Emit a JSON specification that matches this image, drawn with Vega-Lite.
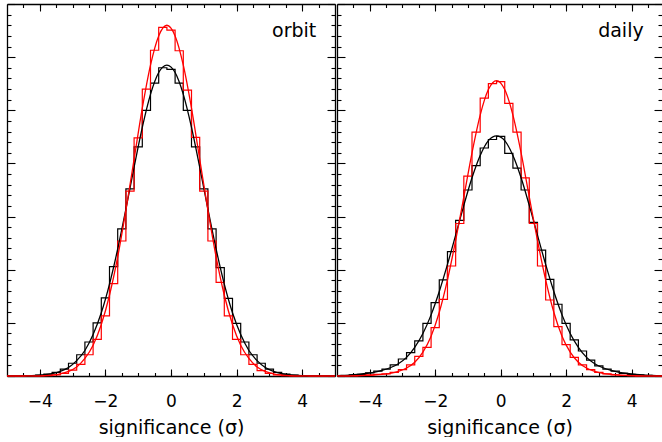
{
  "$schema": "https://vega.github.io/schema/vega-lite/v6.json",
  "padding": {"left": 4, "top": 3, "right": 0, "bottom": 0},
  "spacing": 2,
  "bounds": "flush",
  "config": {
    "view": {"stroke": null},
    "axis": {"domainColor": "black", "tickColor": "black", "labelColor": "black", "titleColor": "black", "labelFont": "DejaVu Sans", "titleFont": "DejaVu Sans", "grid": false, "tickWidth": 1.1, "domainWidth": 1.3, "labelFontSize": 17, "titleFontSize": 19, "titleFontWeight": "normal"}
  },
  "datasets": {
    "orbitHist": [
      {"x": -5, "black": 0, "red": 0}, {"x": -4.75, "black": 0, "red": 0}, {"x": -4.5, "black": 0.002, "red": 0},
      {"x": -4.25, "black": 0.006, "red": 0.001}, {"x": -4.0, "black": 0.015, "red": 0.003}, {"x": -3.75, "black": 0.035, "red": 0.008},
      {"x": -3.5, "black": 0.07, "red": 0.02}, {"x": -3.25, "black": 0.13, "red": 0.05}, {"x": -3.0, "black": 0.24, "red": 0.11},
      {"x": -2.75, "black": 0.40, "red": 0.22}, {"x": -2.5, "black": 0.64, "red": 0.40}, {"x": -2.25, "black": 1.00, "red": 0.69},
      {"x": -2.0, "black": 1.47, "red": 1.13}, {"x": -1.75, "black": 2.06, "red": 1.74}, {"x": -1.5, "black": 2.77, "red": 2.54},
      {"x": -1.25, "black": 3.52, "red": 3.48}, {"x": -1.0, "black": 4.31, "red": 4.48}, {"x": -0.75, "black": 5.00, "red": 5.40},
      {"x": -0.5, "black": 5.51, "red": 6.13}, {"x": -0.25, "black": 5.80, "red": 6.56}, {"x": 0, "black": 5.77, "red": 6.51},
      {"x": 0.25, "black": 5.51, "red": 6.12}, {"x": 0.5, "black": 5.00, "red": 5.38}, {"x": 0.75, "black": 4.31, "red": 4.49},
      {"x": 1.0, "black": 3.52, "red": 3.48}, {"x": 1.25, "black": 2.77, "red": 2.54}, {"x": 1.5, "black": 2.04, "red": 1.76},
      {"x": 1.75, "black": 1.46, "red": 1.13}, {"x": 2.0, "black": 0.99, "red": 0.69}, {"x": 2.25, "black": 0.64, "red": 0.40},
      {"x": 2.5, "black": 0.40, "red": 0.22}, {"x": 2.75, "black": 0.24, "red": 0.10}, {"x": 3.0, "black": 0.13, "red": 0.05},
      {"x": 3.25, "black": 0.07, "red": 0.02}, {"x": 3.5, "black": 0.035, "red": 0.008}, {"x": 3.75, "black": 0.015, "red": 0.003},
      {"x": 4.0, "black": 0.006, "red": 0.001}, {"x": 4.25, "black": 0.002, "red": 0}, {"x": 4.5, "black": 0, "red": 0},
      {"x": 4.75, "black": 0, "red": 0}, {"x": 5, "black": 0, "red": 0}
    ],
    "orbitCurve": [
      {"x": -5, "black": 0, "red": 0}, {"x": -4.875, "black": 0.001, "red": 0}, {"x": -4.625, "black": 0.002, "red": 0},
      {"x": -4.375, "black": 0.004, "red": 0.001}, {"x": -4.125, "black": 0.010, "red": 0.003}, {"x": -3.875, "black": 0.022, "red": 0.008},
      {"x": -3.625, "black": 0.044, "red": 0.018}, {"x": -3.375, "black": 0.087, "red": 0.041}, {"x": -3.125, "black": 0.16, "red": 0.087},
      {"x": -2.875, "black": 0.29, "red": 0.17}, {"x": -2.625, "black": 0.48, "red": 0.33}, {"x": -2.375, "black": 0.78, "red": 0.58},
      {"x": -2.125, "black": 1.19, "red": 0.97}, {"x": -1.875, "black": 1.73, "red": 1.52}, {"x": -1.625, "black": 2.39, "red": 2.24},
      {"x": -1.375, "black": 3.14, "red": 3.12}, {"x": -1.125, "black": 3.93, "red": 4.08}, {"x": -0.875, "black": 4.68, "red": 5.04},
      {"x": -0.625, "black": 5.30, "red": 5.85}, {"x": -0.375, "black": 5.71, "red": 6.40}, {"x": -0.125, "black": 5.85, "red": 6.60},
      {"x": 0.125, "black": 5.71, "red": 6.40}, {"x": 0.375, "black": 5.30, "red": 5.85}, {"x": 0.625, "black": 4.68, "red": 5.04},
      {"x": 0.875, "black": 3.93, "red": 4.08}, {"x": 1.125, "black": 3.14, "red": 3.12}, {"x": 1.375, "black": 2.39, "red": 2.24},
      {"x": 1.625, "black": 1.73, "red": 1.52}, {"x": 1.875, "black": 1.19, "red": 0.97}, {"x": 2.125, "black": 0.78, "red": 0.58},
      {"x": 2.375, "black": 0.48, "red": 0.33}, {"x": 2.625, "black": 0.29, "red": 0.17}, {"x": 2.875, "black": 0.16, "red": 0.087},
      {"x": 3.125, "black": 0.087, "red": 0.041}, {"x": 3.375, "black": 0.044, "red": 0.018}, {"x": 3.625, "black": 0.022, "red": 0.008},
      {"x": 3.875, "black": 0.010, "red": 0.003}, {"x": 4.125, "black": 0.004, "red": 0.001}, {"x": 4.375, "black": 0.002, "red": 0},
      {"x": 4.625, "black": 0.001, "red": 0}, {"x": 4.875, "black": 0, "red": 0}, {"x": 5, "black": 0, "red": 0}
    ],
    "dailyHist": [
      {"x": -5, "black": 0, "red": 0}, {"x": -4.75, "black": 0.005, "red": 0}, {"x": -4.5, "black": 0.02, "red": 0.005},
      {"x": -4.25, "black": 0.03, "red": 0.01}, {"x": -4.0, "black": 0.06, "red": 0.02}, {"x": -3.75, "black": 0.09, "red": 0.03},
      {"x": -3.5, "black": 0.13, "red": 0.04}, {"x": -3.25, "black": 0.21, "red": 0.07}, {"x": -3.0, "black": 0.32, "red": 0.12},
      {"x": -2.75, "black": 0.44, "red": 0.21}, {"x": -2.5, "black": 0.66, "red": 0.37}, {"x": -2.25, "black": 0.99, "red": 0.54},
      {"x": -2.0, "black": 1.38, "red": 0.91}, {"x": -1.75, "black": 1.81, "red": 1.44}, {"x": -1.5, "black": 2.34, "red": 2.07},
      {"x": -1.25, "black": 2.93, "red": 2.87}, {"x": -1.0, "black": 3.50, "red": 3.76}, {"x": -0.75, "black": 3.96, "red": 4.59},
      {"x": -0.5, "black": 4.29, "red": 5.23}, {"x": -0.25, "black": 4.45, "red": 5.50}, {"x": 0, "black": 4.51, "red": 5.54},
      {"x": 0.25, "black": 4.19, "red": 5.13}, {"x": 0.5, "black": 3.91, "red": 4.59}, {"x": 0.75, "black": 3.50, "red": 3.73},
      {"x": 1.0, "black": 2.89, "red": 2.87}, {"x": 1.25, "black": 2.37, "red": 2.07}, {"x": 1.5, "black": 1.82, "red": 1.43},
      {"x": 1.75, "black": 1.35, "red": 0.93}, {"x": 2.0, "black": 0.99, "red": 0.59}, {"x": 2.25, "black": 0.68, "red": 0.35},
      {"x": 2.5, "black": 0.47, "red": 0.21}, {"x": 2.75, "black": 0.30, "red": 0.12}, {"x": 3.0, "black": 0.19, "red": 0.07},
      {"x": 3.25, "black": 0.13, "red": 0.04}, {"x": 3.5, "black": 0.09, "red": 0.02}, {"x": 3.75, "black": 0.05, "red": 0.01},
      {"x": 4.0, "black": 0.03, "red": 0.005}, {"x": 4.25, "black": 0.02, "red": 0}, {"x": 4.5, "black": 0.01, "red": 0},
      {"x": 4.75, "black": 0, "red": 0}, {"x": 5, "black": 0, "red": 0}
    ],
    "dailyCurve": [
      {"x": -5, "black": 0.008, "red": 0.001}, {"x": -4.875, "black": 0.01, "red": 0.001}, {"x": -4.625, "black": 0.018, "red": 0.002},
      {"x": -4.375, "black": 0.03, "red": 0.005}, {"x": -4.125, "black": 0.047, "red": 0.01}, {"x": -3.875, "black": 0.07, "red": 0.018},
      {"x": -3.625, "black": 0.105, "red": 0.03}, {"x": -3.375, "black": 0.155, "red": 0.05}, {"x": -3.125, "black": 0.23, "red": 0.085},
      {"x": -2.875, "black": 0.35, "red": 0.15}, {"x": -2.625, "black": 0.54, "red": 0.26}, {"x": -2.375, "black": 0.80, "red": 0.45},
      {"x": -2.125, "black": 1.15, "red": 0.75}, {"x": -1.875, "black": 1.59, "red": 1.20}, {"x": -1.625, "black": 2.10, "red": 1.81},
      {"x": -1.375, "black": 2.65, "red": 2.55}, {"x": -1.125, "black": 3.21, "red": 3.37}, {"x": -0.875, "black": 3.73, "red": 4.20},
      {"x": -0.625, "black": 4.15, "red": 4.91}, {"x": -0.375, "black": 4.43, "red": 5.39}, {"x": -0.125, "black": 4.52, "red": 5.56},
      {"x": 0.125, "black": 4.43, "red": 5.39}, {"x": 0.375, "black": 4.15, "red": 4.91}, {"x": 0.625, "black": 3.73, "red": 4.20},
      {"x": 0.875, "black": 3.21, "red": 3.37}, {"x": 1.125, "black": 2.65, "red": 2.55}, {"x": 1.375, "black": 2.10, "red": 1.81},
      {"x": 1.625, "black": 1.59, "red": 1.20}, {"x": 1.875, "black": 1.15, "red": 0.75}, {"x": 2.125, "black": 0.80, "red": 0.45},
      {"x": 2.375, "black": 0.54, "red": 0.26}, {"x": 2.625, "black": 0.35, "red": 0.15}, {"x": 2.875, "black": 0.23, "red": 0.085},
      {"x": 3.125, "black": 0.155, "red": 0.05}, {"x": 3.375, "black": 0.105, "red": 0.03}, {"x": 3.625, "black": 0.07, "red": 0.018},
      {"x": 3.875, "black": 0.047, "red": 0.01}, {"x": 4.125, "black": 0.03, "red": 0.005}, {"x": 4.375, "black": 0.018, "red": 0.002},
      {"x": 4.625, "black": 0.01, "red": 0.001}, {"x": 4.875, "black": 0.005, "red": 0}, {"x": 5, "black": 0.004, "red": 0}
    ]
  },
  "hconcat": [
    {
      "width": 328,
      "height": 372,
      "resolve": {"axis": {"x": "independent", "y": "independent"}},
      "layer": [
        {
          "data": {"name": "orbitHist"},
          "mark": {"type": "line", "interpolate": "step", "color": "black", "strokeWidth": 1.2},
          "encoding": {
            "x": {"field": "x", "type": "quantitative", "scale": {"domain": [-5, 5], "nice": false, "zero": false},
                  "axis": {"orient": "bottom", "values": [-4, -2, 0, 2, 4], "tickSize": -7, "labelPadding": 24, "title": "significance (σ)", "titlePadding": 9, "domain": true}},
            "y": {"field": "black", "type": "quantitative", "scale": {"domain": [0, 7], "nice": false, "zero": true},
                  "axis": {"orient": "left", "values": [0, 1, 2, 3, 4, 5, 6, 7], "tickSize": -8, "labels": false, "title": null, "domain": true}}
          }
        },
        {
          "data": {"name": "orbitHist"},
          "mark": {"type": "line", "interpolate": "step", "color": "#ff0000", "strokeWidth": 1.2},
          "encoding": {
            "x": {"field": "x", "type": "quantitative",
                  "axis": {"orient": "bottom", "values": [-4.5, -4, -3.5, -3, -2.5, -2, -1.5, -1, -0.5, 0, 0.5, 1, 1.5, 2, 2.5, 3, 3.5, 4, 4.5], "tickSize": -3.5, "labels": false, "title": null, "domain": false}},
            "y": {"field": "red", "type": "quantitative",
                  "axis": {"orient": "left", "values": [0.2, 0.4, 0.6, 0.8, 1.2, 1.4, 1.6, 1.8, 2.2, 2.4, 2.6, 2.8, 3.2, 3.4, 3.6, 3.8, 4.2, 4.4, 4.6, 4.8, 5.2, 5.4, 5.6, 5.8, 6.2, 6.4, 6.6, 6.8], "tickSize": -4, "labels": false, "title": null, "domain": false}}
          }
        },
        {
          "data": {"name": "orbitCurve"},
          "mark": {"type": "line", "interpolate": "monotone", "color": "black", "strokeWidth": 1.3},
          "encoding": {
            "x": {"field": "x", "type": "quantitative",
                  "axis": {"orient": "top", "values": [-4, -2, 0, 2, 4], "tickSize": -7, "labels": false, "title": null, "domain": true}},
            "y": {"field": "black", "type": "quantitative",
                  "axis": {"orient": "right", "values": [0, 1, 2, 3, 4, 5, 6, 7], "tickSize": -8, "labels": false, "title": null, "domain": true}}
          }
        },
        {
          "data": {"name": "orbitCurve"},
          "mark": {"type": "line", "interpolate": "monotone", "color": "#ff0000", "strokeWidth": 1.3},
          "encoding": {
            "x": {"field": "x", "type": "quantitative",
                  "axis": {"orient": "top", "values": [-4.5, -4, -3.5, -3, -2.5, -2, -1.5, -1, -0.5, 0, 0.5, 1, 1.5, 2, 2.5, 3, 3.5, 4, 4.5], "tickSize": -3.5, "labels": false, "title": null, "domain": false}},
            "y": {"field": "red", "type": "quantitative",
                  "axis": {"orient": "right", "values": [0.2, 0.4, 0.6, 0.8, 1.2, 1.4, 1.6, 1.8, 2.2, 2.4, 2.6, 2.8, 3.2, 3.4, 3.6, 3.8, 4.2, 4.4, 4.6, 4.8, 5.2, 5.4, 5.6, 5.8, 6.2, 6.4, 6.6, 6.8], "tickSize": -4, "labels": false, "title": null, "domain": false}}
          }
        },
        {
          "data": {"values": [{"x": 4.43, "y": 6.38, "label": "orbit"}]},
          "mark": {"type": "text", "align": "right", "baseline": "alphabetic", "fontSize": 19, "font": "DejaVu Sans", "color": "black"},
          "encoding": {
            "x": {"field": "x", "type": "quantitative", "axis": null},
            "y": {"field": "y", "type": "quantitative", "axis": null},
            "text": {"field": "label"}
          }
        }
      ]
    },
    {
      "width": 325,
      "height": 372,
      "resolve": {"axis": {"x": "independent", "y": "independent"}},
      "layer": [
        {
          "data": {"name": "dailyHist"},
          "mark": {"type": "line", "interpolate": "step", "color": "black", "strokeWidth": 1.2},
          "encoding": {
            "x": {"field": "x", "type": "quantitative", "scale": {"domain": [-5, 4.93], "nice": false, "zero": false},
                  "axis": {"orient": "bottom", "values": [-4, -2, 0, 2, 4], "tickSize": -7, "labelPadding": 24, "title": "significance (σ)", "titlePadding": 9, "domain": true}},
            "y": {"field": "black", "type": "quantitative", "scale": {"domain": [0, 7], "nice": false, "zero": true},
                  "axis": {"orient": "left", "values": [0, 1, 2, 3, 4, 5, 6, 7], "tickSize": -8, "labels": false, "title": null, "domain": true}}
          }
        },
        {
          "data": {"name": "dailyHist"},
          "mark": {"type": "line", "interpolate": "step", "color": "#ff0000", "strokeWidth": 1.2},
          "encoding": {
            "x": {"field": "x", "type": "quantitative",
                  "axis": {"orient": "bottom", "values": [-4.5, -4, -3.5, -3, -2.5, -2, -1.5, -1, -0.5, 0, 0.5, 1, 1.5, 2, 2.5, 3, 3.5, 4, 4.5], "tickSize": -3.5, "labels": false, "title": null, "domain": false}},
            "y": {"field": "red", "type": "quantitative",
                  "axis": {"orient": "left", "values": [0.2, 0.4, 0.6, 0.8, 1.2, 1.4, 1.6, 1.8, 2.2, 2.4, 2.6, 2.8, 3.2, 3.4, 3.6, 3.8, 4.2, 4.4, 4.6, 4.8, 5.2, 5.4, 5.6, 5.8, 6.2, 6.4, 6.6, 6.8], "tickSize": -4, "labels": false, "title": null, "domain": false}}
          }
        },
        {
          "data": {"name": "dailyCurve"},
          "mark": {"type": "line", "interpolate": "monotone", "color": "black", "strokeWidth": 1.3},
          "encoding": {
            "x": {"field": "x", "type": "quantitative",
                  "axis": {"orient": "top", "values": [-4, -2, 0, 2, 4], "tickSize": -7, "labels": false, "title": null, "domain": true}},
            "y": {"field": "black", "type": "quantitative",
                  "axis": {"orient": "right", "values": [0, 1, 2, 3, 4, 5, 6, 7], "tickSize": -8, "labels": false, "title": null, "domain": false}}
          }
        },
        {
          "data": {"name": "dailyCurve"},
          "mark": {"type": "line", "interpolate": "monotone", "color": "#ff0000", "strokeWidth": 1.3},
          "encoding": {
            "x": {"field": "x", "type": "quantitative",
                  "axis": {"orient": "top", "values": [-4.5, -4, -3.5, -3, -2.5, -2, -1.5, -1, -0.5, 0, 0.5, 1, 1.5, 2, 2.5, 3, 3.5, 4, 4.5], "tickSize": -3.5, "labels": false, "title": null, "domain": false}},
            "y": {"field": "red", "type": "quantitative",
                  "axis": {"orient": "right", "values": [0.2, 0.4, 0.6, 0.8, 1.2, 1.4, 1.6, 1.8, 2.2, 2.4, 2.6, 2.8, 3.2, 3.4, 3.6, 3.8, 4.2, 4.4, 4.6, 4.8, 5.2, 5.4, 5.6, 5.8, 6.2, 6.4, 6.6, 6.8], "tickSize": -4, "labels": false, "title": null, "domain": false}}
          }
        },
        {
          "data": {"values": [{"x": 4.37, "y": 6.38, "label": "daily"}]},
          "mark": {"type": "text", "align": "right", "baseline": "alphabetic", "fontSize": 19, "font": "DejaVu Sans", "color": "black"},
          "encoding": {
            "x": {"field": "x", "type": "quantitative", "axis": null},
            "y": {"field": "y", "type": "quantitative", "axis": null},
            "text": {"field": "label"}
          }
        }
      ]
    }
  ]
}
